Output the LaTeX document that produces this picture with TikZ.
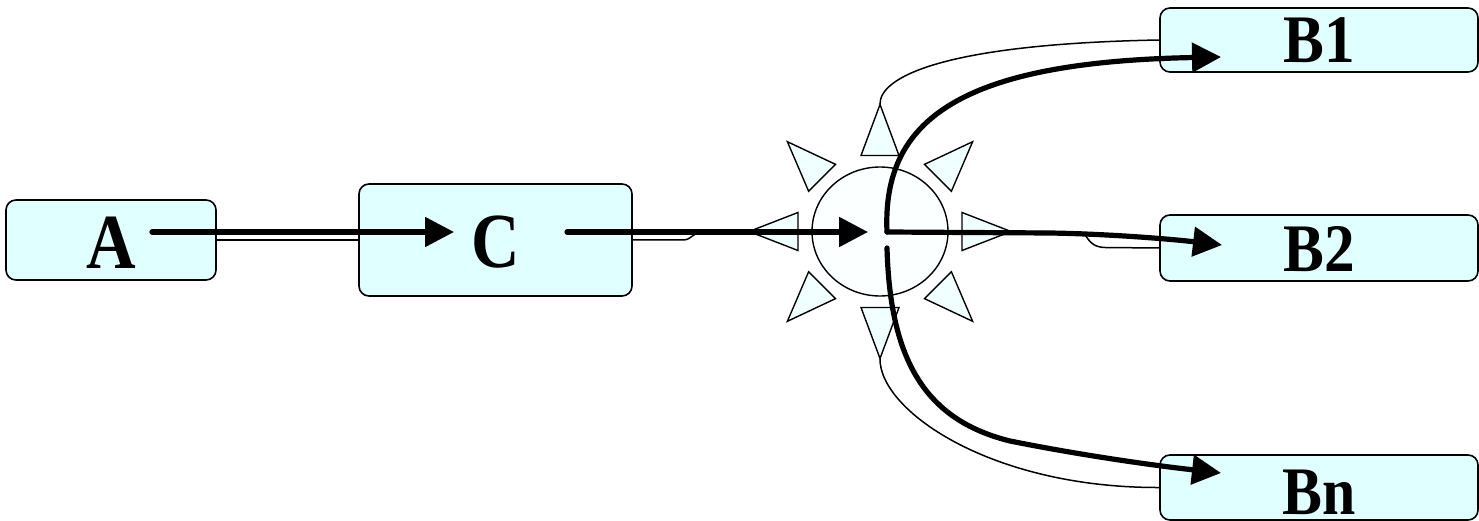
\documentclass[tikz,border=0pt]{standalone}
\usepackage{fontspec}
\setmainfont{Liberation Serif}
\usetikzlibrary{arrows.meta,calc,shapes.geometric}
\definecolor{boxfill}{HTML}{E0FFFF}
\definecolor{trifill}{HTML}{F0FFFF}
\definecolor{hubfill}{HTML}{FCFFFF}
\begin{document}
\begin{tikzpicture}[x=1pt,y=-1pt,
  box/.style={draw, line width=1.6pt, fill=boxfill, rounded corners=10pt, inner sep=0pt},
  thinline/.style={line width=1.5pt},
  heavy/.style={line width=5.2pt, line cap=round, -{Triangle[length=29pt,width=29pt]}},
  tri/.style={draw, line width=1.4pt, fill=trifill, line join=miter},
  bigA/.style={font=\fontsize{78}{80}\selectfont\bfseries},
  bigB/.style={font=\fontsize{68}{70}\selectfont\bfseries}
]
\useasboundingbox (0,0) rectangle (1479,521);

% boxes
\node[box, bigA, minimum width=210pt, minimum height=80pt, text height=58pt, text depth=0pt] (A) at (111,240) {\scalebox{0.88}[1]{A}};
\node[box, bigA, minimum width=273pt, minimum height=112pt, text height=54pt, text depth=0pt] (C) at (495.5,240) {\scalebox{0.86}[1]{C}};
\node[box, bigB, minimum width=318pt, minimum height=64pt, text height=46pt, text depth=0pt] (B1) at (1319,40) {\scalebox{0.9}[1]{B1}};
\node[box, bigB, minimum width=318pt, minimum height=66pt, text height=46pt, text depth=0pt] (B2) at (1319,248) {\scalebox{0.9}[1]{B2}};
\node[box, bigB, minimum width=318pt, minimum height=65pt, text height=53pt, text depth=0pt] (Bn) at (1319,487.5) {\scalebox{0.88}[1]{Bn}};

% hub
\node[ellipse, draw, line width=1.4pt, fill=hubfill, minimum width=136pt, minimum height=129pt, inner sep=0pt] (hub) at (880,231.5) {};

% burst triangles
\foreach \a/\n in {0/E,45/SE,90/S,135/SW,180/W,225/NW,270/N,315/NE}{
  \draw[tri] ($(hub.center)+({82*cos(\a)+19*sin(\a)},{76*sin(\a)-19*cos(\a)})$)
    -- ($(hub.center)+({131*cos(\a)},{127*sin(\a)})$) coordinate (t\n)
    -- ($(hub.center)+({82*cos(\a)-19*sin(\a)},{76*sin(\a)+19*cos(\a)})$) -- cycle;
}

% thin connectors
\draw[thinline] (A.east) -- (C.west);
\draw[thinline] (C.east) -- (683,240) .. controls (692,240) and (692,232) .. (705,232) -- (tW);
\draw[thinline] (tN) .. controls (879,78) and (940,44) .. (B1.west);
\draw[thinline] (tE) -- (1080,232) .. controls (1088,232) and (1086,247) .. (1105,247.5) -- (B2.west);
\draw[thinline] (tS) .. controls (879,410) and (990,488) .. (Bn.west);

% heavy arrows
\coordinate (aS) at (152,232);
\coordinate (aE) at (454,232);
\coordinate (cS) at (567,232);
\coordinate (hubIn) at (868,232);
\coordinate (hubOut) at (887,232);
\coordinate (hubOut2) at (887,248);
\coordinate (b1tip) at (1221,57);
\coordinate (b2tip) at (1222,245);
\coordinate (bntip) at (1221,473);

\draw[heavy] (aS) -- (aE);
\draw[heavy] (cS) -- (hubIn);
\draw[heavy] (hubOut) .. controls (882,120) and (960,62) .. (b1tip);
\draw[heavy] (hubOut) -- (1050,233) .. controls (1110,234) and (1170,239) .. (b2tip);
\draw[heavy] (hubOut2) .. controls (890,360) and (925,420) .. (1010,441) .. controls (1080,455) and (1150,465) .. (bntip);
\end{tikzpicture}
\end{document}
